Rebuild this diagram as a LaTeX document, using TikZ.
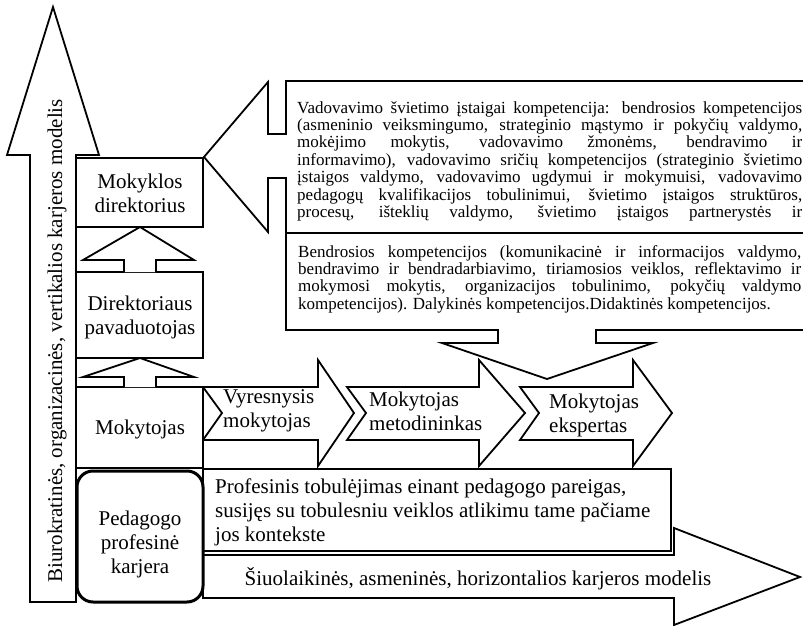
\documentclass[tikz,border=0pt]{standalone}
\usepackage{fontspec}
\setmainfont{Liberation Serif}
\tolerance=10000
\hyphenpenalty=10000

\begin{document}
\begin{tikzpicture}[x=1pt, y=-1pt, line join=miter,
    blk/.style={draw, line width=1.8pt, fill=white},
    lbl/.style={font=\fontsize{21}{24}\selectfont, align=center, inner sep=0pt},
    txt/.style={font=\fontsize{17}{17.4}\selectfont, inner sep=0pt, anchor=north west, align=justify}]
    \useasboundingbox (0,0) rectangle (803,626);
    \draw[blk] (30,602) -- (30,155) -- (7,155) -- (53,7) -- (99,155) -- (76,155) -- (76,602) -- cycle;
    \draw[blk] (286,81) -- (830,81) -- (830,233) -- (286,233) -- (286,178) -- (268,178) -- (268,232)
        -- (204,157) -- (268,82) -- (268,134) -- (286,134) -- cycle;
    \draw[blk] (286,233) -- (830,233) -- (830,330) -- (596,330) -- (596,343) -- (653,343)
        -- (547,379) -- (442,343) -- (498,343) -- (498,330) -- (286,330) -- cycle;
    \draw[blk] (203,555) -- (674,555) -- (674,528) -- (800,577) -- (674,625) -- (674,598) -- (203,598) -- cycle;
    \draw[blk] (203,387) -- (318,387) -- (318,360) -- (354,413) -- (318,466) -- (318,440) -- (203,440) -- (222,413) -- cycle;
    \draw[blk] (347,387) -- (479,387) -- (479,360) -- (525,413) -- (479,466) -- (479,440) -- (347,440) -- (366,413) -- cycle;
    \draw[blk] (520,387) -- (633,387) -- (633,360) -- (672,413) -- (633,466) -- (633,440) -- (520,440) -- (539,413) -- cycle;
    \draw[blk] (203,469) rectangle (671,551);
    \draw[blk] (76,158) rectangle (203,227);
    \draw[blk] (76,272) rectangle (203,358);
    \draw[blk] (76,387) rectangle (203,468);
    \draw[blk] (124,272) -- (124,260) -- (83,260) -- (140,227) -- (194,260) -- (156,260) -- (156,272);
    \draw[blk] (124,387) -- (124,377) -- (83,377) -- (140,358) -- (194,377) -- (156,377) -- (156,387);
    \draw[blk, line width=3pt, rounded corners=16pt] (77,471) rectangle (203,602);

    \node[lbl, rotate=90] (vert) at (57,341) {Biurokratinės, organizacinės, vertikalios karjeros modelis};
    \node[lbl] (dir) at (140,193) {Mokyklos\\direktorius};
    \node[lbl] (pav) at (140,317) {Direktoriaus\\pavaduotojas};
    \node[lbl] (mok) at (140,429) {Mokytojas};
    \node[lbl] (ped) at (140,544) {Pedagogo\\profesinė\\karjera};
    \node[lbl, align=left, anchor=west] (vyr) at (223,411) {Vyresnysis\\mokytojas};
    \node[lbl, align=left, anchor=west] (met) at (369,411) {Mokytojas\\metodininkas};
    \node[lbl, align=left, anchor=west] (eksp) at (549,415) {Mokytojas\\ekspertas};
    \node[lbl] (horiz) at (478,579) {Šiuolaikinės, asmeninės, horizontalios karjeros modelis};
    \begin{scope}
        \clip (203,469) rectangle (671,550);
        \node[lbl, align=left, anchor=north west] (prof) at (215,479)
            {Profesinis tobulėjimas einant pedagogo pareigas,\\susijęs su tobulesniu veiklos atlikimu tame pačiame\\jos kontekste};
    \end{scope}
    \node[txt, text width=505pt] (vad) at (297,101) {Vadovavimo švietimo įstaigai kompetencija: bendrosios kompetencijos \linebreak
        (asmeninio veiksmingumo, strateginio mąstymo ir pokyčių valdymo, \linebreak
        mokėjimo mokytis, vadovavimo žmonėms, bendravimo ir \linebreak
        informavimo), vadovavimo sričių kompetencijos (strateginio švietimo \linebreak
        įstaigos valdymo, vadovavimo ugdymui ir mokymuisi, vadovavimo \linebreak
        pedagogų kvalifikacijos tobulinimui, švietimo įstaigos struktūros, \linebreak
        procesų, išteklių valdymo, švietimo įstaigos partnerystės ir\parfillskip=0pt\par};
    \node[txt, text width=503pt] (bend) at (298,245) {Bendrosios kompetencijos (komunikacinė ir informacijos valdymo, \linebreak
        bendravimo ir bendradarbiavimo, tiriamosios veiklos, reflektavimo ir \linebreak
        mokymosi mokytis, organizacijos tobulinimo, pokyčių valdymo \linebreak
        kompetencijos). Dalykinės kompetencijos.Didaktinės kompetencijos.};
\end{tikzpicture}
\end{document}
